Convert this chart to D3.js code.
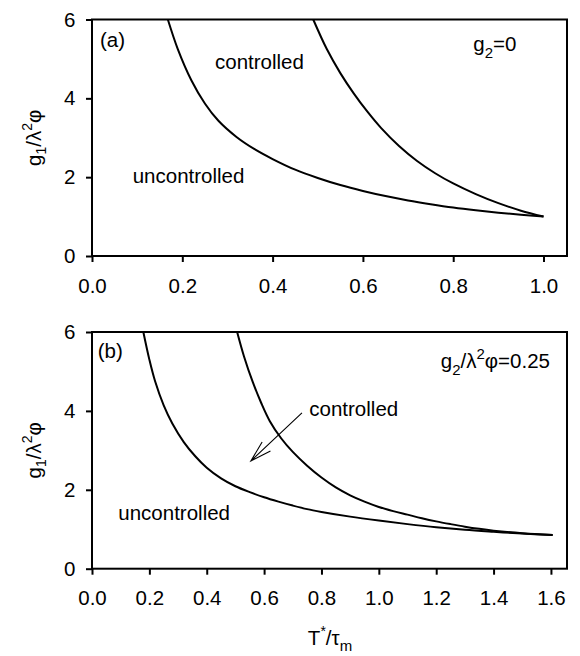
<!DOCTYPE html>
<html>
<head>
<meta charset="utf-8">
<script src="https://cdnjs.cloudflare.com/ajax/libs/d3/7.8.5/d3.min.js"></script>
<style>
  body { margin: 0; background: #fff; }
  svg { display: block; }
  text { font-family: "Liberation Sans", Arial, sans-serif; fill: #000; }
</style>
</head>
<body>
<svg id="chart" width="580" height="656"></svg>
<script>
// ---- data ----
// panel (a): g2 = 0
const aUncX = [0.168, 0.19, 0.22, 0.25, 0.28, 0.32, 0.36, 0.40, 0.45, 0.50, 0.55, 0.60, 0.65, 0.70, 0.75, 0.80, 0.85, 0.90, 0.95, 1.0];
const aUncY = [6.0, 5.25, 4.46, 3.87, 3.43, 3.02, 2.71, 2.46, 2.19, 1.98, 1.80, 1.65, 1.52, 1.41, 1.315, 1.23, 1.16, 1.10, 1.045, 1.0];
const aConX = [0.490, 0.52, 0.55, 0.58, 0.61, 0.64, 0.68, 0.72, 0.76, 0.80, 0.85, 0.90, 0.95, 1.0];
const aConY = [6.0, 5.25, 4.64, 4.12, 3.66, 3.25, 2.79, 2.41, 2.10, 1.84, 1.57, 1.34, 1.15, 1.0];

// panel (b): g2/λ²φ = 0.25
const bUncX = [0.179, 0.20, 0.22, 0.25, 0.28, 0.32, 0.36, 0.40, 0.45, 0.50, 0.55, 0.60, 0.65, 0.70, 0.75, 0.80, 0.90, 1.00, 1.10, 1.20, 1.30, 1.40, 1.50, 1.606];
const bUncY = [6.0, 5.30, 4.75, 4.14, 3.68, 3.21, 2.85, 2.56, 2.29, 2.09, 1.94, 1.81, 1.70, 1.60, 1.51, 1.44, 1.32, 1.22, 1.13, 1.05, 0.985, 0.935, 0.89, 0.855];
const bConX = [0.506, 0.53, 0.56, 0.59, 0.62, 0.66, 0.70, 0.75, 0.80, 0.85, 0.90, 0.95, 1.00, 1.05, 1.10, 1.15, 1.20, 1.25, 1.30, 1.35, 1.40, 1.50, 1.606];
const bConY = [6.0, 5.38, 4.74, 4.20, 3.74, 3.30, 2.96, 2.61, 2.31, 2.06, 1.86, 1.70, 1.565, 1.46, 1.37, 1.28, 1.20, 1.13, 1.065, 1.01, 0.965, 0.90, 0.855];

// arrow in panel (b), data coords [x, y]
const arrowFrom = [0.732, 3.95];
const arrowTo = [0.554, 2.73];

// ticks
const aXTicks = [0.0, 0.2, 0.4, 0.6, 0.8, 1.0];
const bXTicks = [0.0, 0.2, 0.4, 0.6, 0.8, 1.0, 1.2, 1.4, 1.6];
const yTicks = [0, 2, 4, 6];

const zip = (xs, ys) => xs.map((x, i) => [x, ys[i]]);

const svg = d3.select("#chart");
const fontSize = 20.5;
const plotLeft = 92, plotRight = 567;

function drawPanel(cfg) {
    let x = d3.scaleLinear().domain([0, cfg.xMax]).range([plotLeft, plotRight]);
    let y = d3.scaleLinear().domain([0, 6]).range([cfg.bottom, cfg.top]);

    let g = svg.append("g");

    // x axis
    let xAxis = d3.axisBottom(x)
        .tickValues(cfg.xTicks)
        .tickFormat(d3.format(".1f"))
        .tickSize(6)
        .tickSizeOuter(0)
        .tickPadding(16);
    let gx = g.append("g")
        .attr("transform", `translate(0,${cfg.bottom})`)
        .call(xAxis);

    // y axis
    let yAxis = d3.axisLeft(y)
        .tickValues(yTicks)
        .tickFormat(d3.format("d"))
        .tickSize(6)
        .tickSizeOuter(0)
        .tickPadding(10.5);
    let gy = g.append("g")
        .attr("transform", `translate(${plotLeft},0)`)
        .call(yAxis);

    [gx, gy].forEach(ax => {
        ax.select(".domain").remove();
        ax.selectAll(".tick line").attr("stroke", "#000").attr("stroke-width", 2);
        ax.selectAll(".tick text")
          .style("font-family", '"Liberation Sans", Arial, sans-serif')
          .style("font-size", fontSize + "px")
          .attr("fill", "#000");
    });

    // frame
    g.append("rect")
        .attr("x", plotLeft)
        .attr("y", cfg.top)
        .attr("width", plotRight - plotLeft)
        .attr("height", cfg.bottom - cfg.top)
        .attr("fill", "none")
        .attr("stroke", "#000")
        .attr("stroke-width", 2);

    // curves
    let line = d3.line()
        .x(d => x(d[0]))
        .y(d => y(d[1]))
        .curve(d3.curveCatmullRom.alpha(0.5));

    cfg.curves.forEach(c => {
        g.append("path")
            .datum(c)
            .attr("d", line)
            .attr("fill", "none")
            .attr("stroke", "#000")
            .attr("stroke-width", 2);
    });

    // y axis title  g1/λ²φ
    let yt = g.append("text")
        .attr("transform", `translate(41,${(cfg.top + cfg.bottom) / 2}) rotate(-90)`)
        .attr("text-anchor", "middle")
        .style("font-size", fontSize + "px");
    yt.append("tspan").text("g");
    yt.append("tspan").attr("dy", 5).style("font-size", "14px").text("1");
    yt.append("tspan").attr("dy", -5).text("/λ");
    yt.append("tspan").attr("dy", -9).style("font-size", "14px").text("2");
    yt.append("tspan").attr("dy", 9).text("φ");

    return {x: x, y: y, g: g};
}

function label(g, px, py, str, anchor) {
    return g.append("text")
        .attr("x", px)
        .attr("y", py)
        .attr("text-anchor", anchor || "start")
        .style("font-size", fontSize + "px")
        .text(str);
}

// ---- panel (a) ----
let pa = drawPanel({
    top: 19.5, bottom: 256, xMax: 1.052, xTicks: aXTicks,
    curves: [zip(aUncX, aUncY), zip(aConX, aConY)]
});
label(pa.g, 100, 47, "(a)");
label(pa.g, 215, 69, "controlled");
label(pa.g, 132.7, 183.3, "uncontrolled");
let ga = label(pa.g, 473.3, 50.7, "g");
ga.append("tspan").attr("dy", 7).style("font-size", "15px").text("2");
ga.append("tspan").attr("dy", -7).text("=0");

// ---- panel (b) ----
let pb = drawPanel({
    top: 332, bottom: 568.7, xMax: 1.656, xTicks: bXTicks,
    curves: [zip(bUncX, bUncY), zip(bConX, bConY)]
});
label(pb.g, 97.7, 358, "(b)");
label(pb.g, 118.3, 520, "uncontrolled");
label(pb.g, 309.3, 415.7, "controlled");
let gb = label(pb.g, 550, 368.3, "", "end");
gb.append("tspan").text("g");
gb.append("tspan").attr("dy", 7).style("font-size", "15px").text("2");
gb.append("tspan").attr("dy", -7).text("/λ");
gb.append("tspan").attr("dy", -9).style("font-size", "15px").text("2");
gb.append("tspan").attr("dy", 9).text("φ=0.25");

// arrow (open head)
let x0 = pb.x(arrowFrom[0]), y0 = pb.y(arrowFrom[1]);
let x1 = pb.x(arrowTo[0]), y1 = pb.y(arrowTo[1]);
let ang = Math.atan2(y0 - y1, x0 - x1);
let barb = 22, half = 16 * Math.PI / 180;
let arrowPath = d3.path();
arrowPath.moveTo(x0, y0);
arrowPath.lineTo(x1, y1);
arrowPath.moveTo(x1 + barb * Math.cos(ang - half), y1 + barb * Math.sin(ang - half));
arrowPath.lineTo(x1, y1);
arrowPath.lineTo(x1 + barb * Math.cos(ang + half), y1 + barb * Math.sin(ang + half));
pb.g.append("path")
    .attr("d", arrowPath.toString())
    .attr("fill", "none")
    .attr("stroke", "#000")
    .attr("stroke-width", 1.1);

// x axis title  T*/τm
let xt = svg.append("text")
    .attr("x", 330)
    .attr("y", 645)
    .attr("text-anchor", "middle")
    .style("font-size", fontSize + "px");
xt.append("tspan").text("T");
xt.append("tspan").attr("dy", -9).style("font-size", "14px").text("*");
xt.append("tspan").attr("dy", 9).text("/τ");
xt.append("tspan").attr("dy", 6).style("font-size", "15px").text("m");
</script>
</body>
</html>
